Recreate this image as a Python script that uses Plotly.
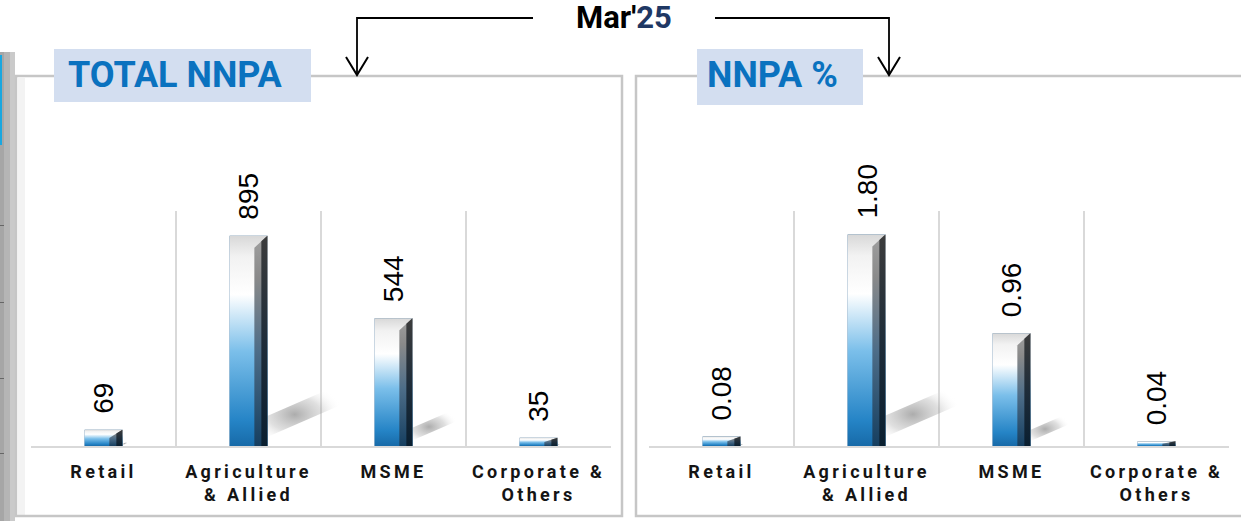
import plotly.graph_objects as go

# ---------------- data ----------------
categories = ["Retail", "Agriculture & Allied", "MSME", "Corporate & Others"]
tick_labels = ["Retail", "Agriculture<br>& Allied", "MSME", "Corporate &<br>Others"]
total_nnpa = [69, 895, 544, 35]
total_nnpa_text = ["69", "895", "544", "35"]
nnpa_pct = [0.08, 1.80, 0.96, 0.04]
nnpa_pct_text = ["0.08", "1.80", "0.96", "0.04"]
title_text = "Mar'25"
panel_titles = ["TOTAL NNPA", "NNPA %"]

W, H = 1241, 521


def px(x):
    return x / W


def py(y):
    return 1 - y / H


fig = go.Figure()

# layout geometry (pixels)
PLOT_TOP, PLOT_BOT = 211, 446
panels = [
    dict(xa="x", ya="y", x0=31, x1=611, ymax=1000, vals=total_nnpa, texts=total_nnpa_text),
    dict(xa="x2", ya="y2", x0=649, x1=1229, ymax=2, vals=nnpa_pct, texts=nnpa_pct_text),
]

BAR_W = 0.26
FACE_CS = [[0, "#176aa8"], [0.12, "#2584c6"], [0.45, "#7bbfea"], [0.72, "#ffffff"],
           [0.9, "#f2f2f2"], [1, "#d8d8d8"]]
BEV_CS = [[0, "#163f60"], [0.45, "#4d6d88"], [0.8, "#8a8a8a"], [1, "#a0a0a0"]]
OUT_CS = [[0, "#0a1f30"], [0.5, "#1f2d3a"], [1, "#3c3c3c"]]
SHADOW_CS = [[0, "rgba(105,105,105,0.55)"], [0.55, "rgba(150,150,150,0.3)"],
             [1, "rgba(255,255,255,0)"]]

annotations = []
for p in panels:
    cat_px = (p["x1"] - p["x0"]) / 4.0
    ppu = (PLOT_BOT - PLOT_TOP) / p["ymax"]  # px per data unit
    xs = list(range(len(categories)))
    # soft cast shadows (size follows bar height)
    for i, v in zip(xs, p["vals"]):
        h = v * ppu
        R = i + BAR_W / 2
        back = 0.10 * h / cat_px
        run = 0.36 * h / cat_px
        rise = 0.20 * h / ppu
        thick = 0.10 * h / ppu
        fig.add_trace(go.Scatter(
            x=[R - back, R + run, R + run, R - back],
            y=[0, rise, rise + thick, thick],
            fill="toself", mode="lines", line=dict(width=0),
            fillgradient=dict(type="radial", colorscale=SHADOW_CS),
            hoverinfo="skip", showlegend=False, xaxis=p["xa"], yaxis=p["ya"]))
    # base bars
    fig.add_trace(go.Bar(x=xs, y=p["vals"], width=BAR_W, marker=dict(color="#1f5a8a", line=dict(width=0)),
                         hoverinfo="skip", showlegend=False, xaxis=p["xa"], yaxis=p["ya"]))
    # bevel / gradient overlays
    rb = 13 / cat_px
    ob = 6 / cat_px
    for i, v in zip(xs, p["vals"]):
        L, R = i - BAR_W / 2, i + BAR_W / 2
        bh = min(12 / ppu, v * 0.5)
        fig.add_trace(go.Scatter(
            x=[L, R, R, L], y=[0, 0, v, v], fill="toself", mode="lines",
            line=dict(width=0), fillgradient=dict(type="vertical", colorscale=FACE_CS),
            hoverinfo="skip", showlegend=False, xaxis=p["xa"], yaxis=p["ya"]))
        fig.add_trace(go.Scatter(
            x=[R - rb, R, R, R - rb], y=[0, 0, v, v - bh], fill="toself", mode="lines",
            line=dict(width=0), fillgradient=dict(type="vertical", colorscale=BEV_CS),
            hoverinfo="skip", showlegend=False, xaxis=p["xa"], yaxis=p["ya"]))
        fig.add_trace(go.Scatter(
            x=[R - ob, R, R, R - ob], y=[0, 0, v, v - bh * ob / rb], fill="toself", mode="lines",
            line=dict(width=0), fillgradient=dict(type="vertical", colorscale=OUT_CS),
            hoverinfo="skip", showlegend=False, xaxis=p["xa"], yaxis=p["ya"]))
    # value labels
    for i, v, t in zip(xs, p["vals"], p["texts"]):
        annotations.append(dict(
            x=i, y=v, xref=p["xa"], yref=p["ya"], text=t, showarrow=False,
            textangle=-90, xanchor="center", yanchor="bottom", yshift=14,
            font=dict(family="Liberation Sans, Arial", size=28, color="#000000")))

# ---------------- axes ----------------
xaxis_common = dict(
    range=[-0.5, 3.5], tickmode="array", tickvals=[0, 1, 2, 3], ticktext=tick_labels,
    showgrid=False, zeroline=False, showline=True, linecolor="#d9d9d9", linewidth=2,
    ticks="", ticklabelstandoff=8,
    tickfont=dict(family="Roboto", size=18, color="#141414", weight=700),
    minor=dict(tickvals=[-0.5, 0.5, 1.5, 2.5, 3.5], showgrid=True, gridcolor="#d9d9d9", gridwidth=1.5, ticks=""),
    fixedrange=True)
yaxis_common = dict(showgrid=False, zeroline=False, showticklabels=False, showline=False, fixedrange=True)

ydom = [py(PLOT_BOT), py(PLOT_TOP)]
fig.update_layout(
    xaxis=dict(domain=[px(31), px(611)], anchor="y", **xaxis_common),
    yaxis=dict(domain=ydom, range=[0, 1000], anchor="x", **yaxis_common),
    xaxis2=dict(domain=[px(649), px(1229)], anchor="y2", **xaxis_common),
    yaxis2=dict(domain=ydom, range=[0, 2], anchor="x2", **yaxis_common),
)

# ---------------- decorations ----------------
shapes = []


def rect(x0, y0, x1, y1, fill=None, line=None, lw=0, layer="below"):
    d = dict(type="rect", xref="paper", yref="paper", x0=px(x0), x1=px(x1), y0=py(y1), y1=py(y0),
             layer=layer)
    d["fillcolor"] = fill if fill else "rgba(0,0,0,0)"
    d["line"] = dict(color=line if line else "rgba(0,0,0,0)", width=lw)
    return d


def path(points, color="#000000", width=2):
    s = "M " + " L ".join(f"{px(x):.5f},{py(y):.5f}" for x, y in points)
    return dict(type="path", xref="paper", yref="paper", path=s, line=dict(color=color, width=width),
                layer="above")


# left edge strip
shapes += [rect(0, 52, 4, 521, fill="#a6a6a6"), rect(4, 52, 10, 521, fill="#b5b5b5"),
           rect(10, 52, 15, 521, fill="#cacaca"), rect(18, 78, 25, 515, fill="#f3f3f3"),
           rect(0, 55, 2, 145, fill="#19a7e0")]
for ty in [225, 302, 378, 453]:
    shapes.append(rect(0, ty, 4, ty + 1, fill="#666666"))
# panel borders
shapes.append(rect(16, 76, 622, 516, line="#c6c6c6", lw=2.5))
shapes.append(rect(636, 76, 1262, 516, line="#c6c6c6", lw=2.5))
# header boxes
shapes.append(rect(54, 49, 311, 102, fill="#d3def0", layer="above"))
shapes.append(rect(697, 49, 863, 105, fill="#d3def0", layer="above"))
# arrows
shapes.append(path([(533, 18), (357, 18), (357, 74)], width=1.8))
shapes.append(path([(346, 57), (357, 75), (368, 57)], width=2))
shapes.append(path([(715, 18), (889, 18), (889, 74)], width=1.8))
shapes.append(path([(878, 57), (889, 75), (900, 57)], width=2))

annotations += [
    dict(x=px(66), y=py(75), xref="paper", yref="paper", xanchor="left", yanchor="middle",
         text=panel_titles[0], showarrow=False,
         font=dict(family="Roboto", size=36, color="#0a72bf", weight=700)),
    dict(x=px(705), y=py(75), xref="paper", yref="paper", xanchor="left", yanchor="middle",
         text=panel_titles[1], showarrow=False,
         font=dict(family="Roboto", size=36, color="#0a72bf", weight=700)),
    dict(x=px(624), y=py(18), xref="paper", yref="paper", xanchor="center", yanchor="middle",
         text="Mar'<span style='color:#1f3864'>25</span>", showarrow=False,
         font=dict(family="Roboto", size=31, color="#000000", weight=700)),
]

fig.update_layout(
    width=W, height=H, margin=dict(l=0, r=0, t=0, b=0),
    paper_bgcolor="#ffffff", plot_bgcolor="rgba(0,0,0,0)",
    showlegend=False, shapes=shapes, annotations=annotations, barmode="overlay",
)

post = ("document.body.style.margin='0';"
        "var s=document.createElement('style');"
        "s.innerHTML='.xtick text, .x2tick text{letter-spacing:3.3px}';"
        "document.head.appendChild(s);")
fig.write_html("out.html", post_script=post, config={"displayModeBar": False})
